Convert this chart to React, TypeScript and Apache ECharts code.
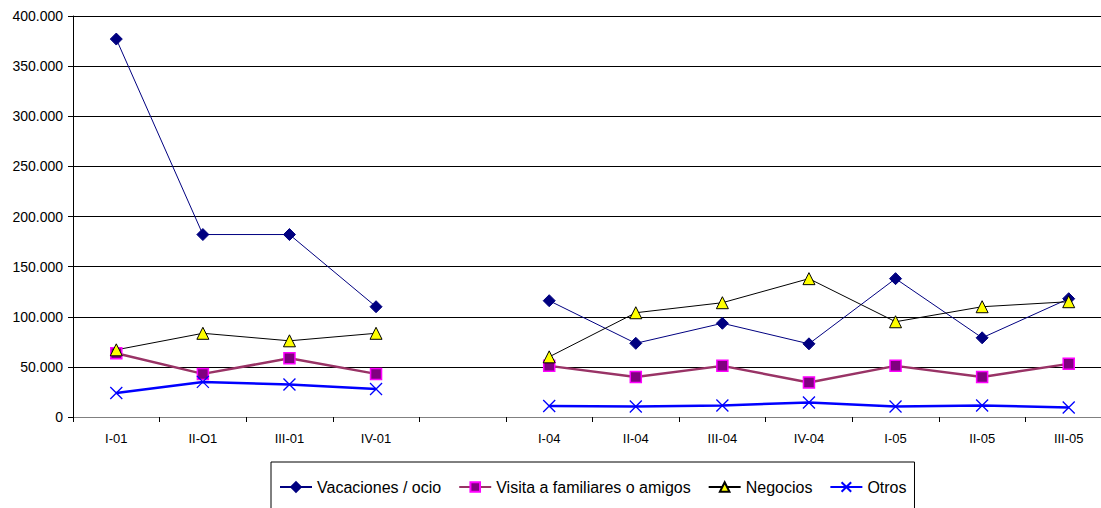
import React, { useEffect, useRef } from "react";
import * as echarts from "echarts";

const categories = ["I-01", "II-O1", "III-01", "IV-01", "", "I-04", "II-04", "III-04", "IV-04", "I-05", "II-05", "III-05"];
const vacaciones = [377000, 182000, 182000, 110000, null, 116000, 73500, 93500, 73000, 138000, 79000, 118000];
const visita = [63500, 43000, 58500, 43000, null, 51000, 40000, 51000, 34500, 51000, 40000, 53000];
const negocios = [67000, 83500, 76000, 83500, null, 60000, 104000, 114000, 138000, 95000, 110000, 115000];
const otros = [24000, 35000, 32500, 28000, null, 11000, 10500, 11500, 14500, 10500, 11500, 9500];
const seriesNames = ["Vacaciones / ocio", "Visita a familiares o amigos", "Negocios", "Otros"];

const FONT = 'Arial, "Liberation Sans", sans-serif';

function fmt(v: number): string {
  return String(v).replace(/\B(?=(\d{3})+(?!\d))/g, ".");
}

export default function App() {
  const ref = useRef<HTMLDivElement>(null);
  useEffect(() => {
    if (!ref.current) return;
    const chart = echarts.init(ref.current, null, { renderer: "svg" });
    chart.setOption({
      animation: false,
      backgroundColor: "#ffffff",
      textStyle: { fontFamily: FONT },
      grid: { left: 73, right: 18, top: 16, bottom: 91, containLabel: false },
      legend: {
        left: 271,
        top: 462,
        orient: "horizontal",
        padding: [17, 8, 17, 8],
        itemWidth: 32,
        itemHeight: 12,
        itemGap: 17,
        borderColor: "#000000",
        borderWidth: 1,
        textStyle: { fontSize: 16, color: "#000000", fontFamily: FONT },
        data: seriesNames,
      },
      xAxis: {
        type: "category",
        data: categories,
        boundaryGap: true,
        axisLine: { lineStyle: { color: "#808080", width: 1 } },
        axisTick: { show: true, interval: 0, length: 5, lineStyle: { color: "#000000" } },
        axisLabel: { interval: 0, fontSize: 13, color: "#000000", margin: 15, fontFamily: FONT },
        splitLine: { show: false },
      },
      yAxis: {
        type: "value",
        min: 0,
        max: 400000,
        interval: 50000,
        axisLine: { show: true, lineStyle: { color: "#000000", width: 1 } },
        axisTick: { show: true, length: 5, lineStyle: { color: "#000000" } },
        axisLabel: { fontSize: 14, color: "#000000", margin: 10, fontFamily: FONT, formatter: (v: number) => fmt(v) },
        splitLine: { show: true, lineStyle: { color: "#000000", width: 1 } },
      },
      series: [
        {
          name: seriesNames[0],
          type: "line",
          data: vacaciones,
          symbol: "diamond",
          symbolSize: 12,
          lineStyle: { color: "#000080", width: 1 },
          itemStyle: { color: "#000080", borderColor: "#000080", borderWidth: 1 },
        },
        {
          name: seriesNames[1],
          type: "line",
          data: visita,
          symbol: "rect",
          symbolSize: 11,
          lineStyle: { color: "#993366", width: 2.5 },
          itemStyle: { color: "#800080", borderColor: "#FF00FF", borderWidth: 1.5 },
        },
        {
          name: seriesNames[2],
          type: "line",
          data: negocios,
          symbol: "triangle",
          symbolSize: 12,
          lineStyle: { color: "#000000", width: 1 },
          itemStyle: { color: "#FFFF00", borderColor: "#000000", borderWidth: 1 },
        },
        {
          name: seriesNames[3],
          type: "line",
          data: otros,
          symbol: "path://M0,0L10,10M10,0L0,10",
          symbolSize: 12,
          lineStyle: { color: "#0000FF", width: 2.5 },
          itemStyle: { color: "none", borderColor: "#0000FF", borderWidth: 1.3 },
        },
      ],
    });
    return () => chart.dispose();
  }, []);
  return (
    <div style={{ position: "fixed", left: 0, top: 0, width: 1101, height: 508, overflow: "hidden", background: "#fff" }}>
      <div ref={ref} style={{ width: 1130, height: 508 }} />
    </div>
  );
}
